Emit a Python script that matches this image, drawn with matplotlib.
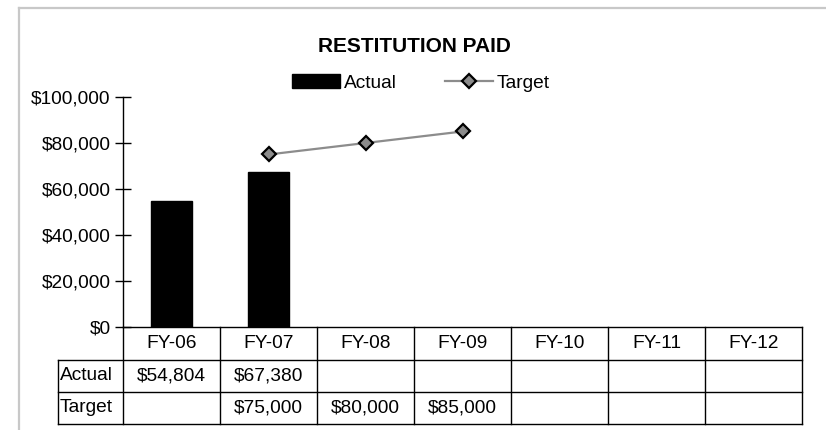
import numpy as np
import matplotlib.pyplot as plt
from matplotlib.lines import Line2D
from matplotlib.patches import Patch
from matplotlib.ticker import FuncFormatter

plt.rcParams['font.family'] = ['Liberation Sans', 'DejaVu Sans']

# Data
years = ['FY-06', 'FY-07', 'FY-08', 'FY-09', 'FY-10', 'FY-11', 'FY-12']
actual = [54804, 67380, None, None, None, None, None]
target = [None, 75000, 80000, 85000, None, None, None]

W, H = 826, 430
FS = 13.8


def fx(x):
    return x / W


def fy(y):
    return 1 - y / H


fig = plt.figure(figsize=(W / 100, H / 100), dpi=100)

# outer chart frame (top and left edges only are visible)
frame = dict(transform=fig.transFigure, color='#c8c8c8', lw=1.6)
fig.add_artist(Line2D([fx(19), 1.0], [fy(8), fy(8)], **frame))
fig.add_artist(Line2D([fx(19), fx(19)], [fy(8), 0.0], **frame))

# plot area
left, right, top, bottom = 123, 802, 97, 327
ax = fig.add_axes([fx(left), fy(bottom), fx(right - left), (bottom - top) / H])

x = np.arange(len(years))
act = np.array([np.nan if v is None else v for v in actual], dtype=float)
tgt = np.array([np.nan if v is None else v for v in target], dtype=float)

ax.bar(x, act, width=0.42, color='black', edgecolor='black', zorder=2)
ax.plot(x, tgt, color='#8c8c8c', linewidth=1.6, marker='D', markersize=7,
        markerfacecolor='#8c8c8c', markeredgecolor='black',
        markeredgewidth=1.6, zorder=3)

ax.set_xlim(-0.5, len(years) - 0.5)
ax.set_ylim(0, 100000)
ax.set_yticks(np.arange(0, 100001, 20000))
ax.yaxis.set_major_formatter(FuncFormatter(lambda v, p: f'${v:,.0f}'))
ax.tick_params(axis='y', direction='inout', length=12, width=1,
               labelsize=FS, pad=3)
ax.set_xticks([])
for s in ['top', 'right']:
    ax.spines[s].set_visible(False)
ax.spines['left'].set_linewidth(1)
ax.spines['bottom'].set_linewidth(1)

fig.text(fx(414), fy(47), 'RESTITUTION PAID', ha='center', va='center',
         fontsize=15, fontweight='bold')

handles = [Patch(facecolor='black', edgecolor='black', label='Actual'),
           Line2D([], [], color='#8c8c8c', linewidth=1.6, marker='D',
                  markersize=7, markerfacecolor='#8c8c8c',
                  markeredgecolor='black', markeredgewidth=1.6,
                  label='Target')]
fig.legend(handles=handles, loc='center', bbox_to_anchor=(fx(421), fy(83)),
           ncol=2, frameon=False, fontsize=FS, handlelength=2.5,
           handletextpad=0.2, columnspacing=2.5, borderpad=0)

# data table below the axis
col_w = (right - left) / len(years)
rows = [('Actual', actual), ('Target', target)]
row_y = [327, 360, 392, 424]
lw = 1
for y in row_y[1:]:
    fig.add_artist(Line2D([fx(58), fx(right)], [fy(y), fy(y)],
                          transform=fig.transFigure, color='black', lw=lw))
fig.add_artist(Line2D([fx(58), fx(58)], [fy(360), fy(424)],
                      transform=fig.transFigure, color='black', lw=lw))
for i in range(len(years) + 1):
    xx = left + i * col_w
    fig.add_artist(Line2D([fx(xx), fx(xx)], [fy(327), fy(424)],
                          transform=fig.transFigure, color='black', lw=lw))

for i, yr in enumerate(years):
    cx = left + (i + 0.5) * col_w
    fig.text(fx(cx), fy(344), yr, ha='center', va='center', fontsize=FS)
    for r, (name, vals) in enumerate(rows):
        cy = (row_y[r + 1] + row_y[r + 2]) / 2
        if vals[i] is not None:
            fig.text(fx(cx), fy(cy), f'${vals[i]:,.0f}', ha='center',
                     va='center', fontsize=FS)

for r, (name, vals) in enumerate(rows):
    cy = (row_y[r + 1] + row_y[r + 2]) / 2
    fig.text(fx(60), fy(cy), name, ha='left', va='center', fontsize=FS)

fig.savefig('out.png', dpi=100)
